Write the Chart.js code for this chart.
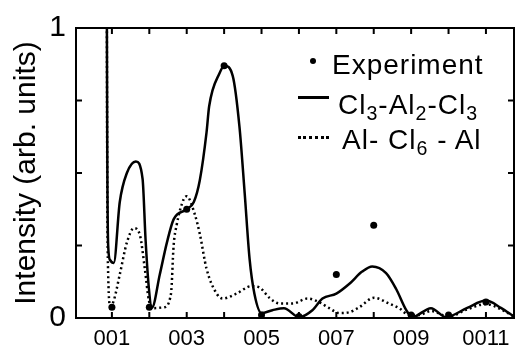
<!DOCTYPE html>
<html>
<head>
<meta charset="utf-8">
<script src="https://cdn.jsdelivr.net/npm/chart.js@4.4.0/dist/chart.umd.min.js"></script>
<style>
    body { margin: 0; background: #fff; }
    #wrap { position: relative; width: 518px; height: 353px; }
    .leg { position: absolute; font-family: "Liberation Sans", sans-serif; font-size: 28px; line-height: 1; color: #000; white-space: nowrap; letter-spacing: 1px; }
    .leg sub { font-size: 0.7em; vertical-align: baseline; position: relative; top: 0.3em; }
    .mark { position: absolute; }
</style>
</head>
<body>
<div id="wrap">
    <canvas id="grafico" width="518" height="353"></canvas>
    <div class="mark" style="left:310px; top:58px; width:6px; height:6px; border-radius:50%; background:#000;"></div>
    <div class="leg" style="left:332px; top:51px;">Experiment</div>
    <div class="mark" style="left:298px; top:96px; width:31px; border-top:3px solid #000;"></div>
    <div class="leg" style="left:338px; top:91px;">Cl<sub>3</sub>-Al<sub>2</sub>-Cl<sub>3</sub></div>
    <div class="mark" style="left:298px; top:136px; width:31px; border-top:3px dotted #000;"></div>
    <div class="leg" style="left:342px; top:126px;">Al- Cl<sub>6</sub> - Al</div>
</div>
<script>
// valores
const xTicks = [1, 2, 3, 4, 5, 6, 7, 8, 9, 10, 11];
const xTickLabels = ["001", "", "003", "", "005", "", "007", "", "009", "", "0011"];
const yTicks = [0, 0.25, 0.5, 0.75, 1];
const yTickLabels = ["0", "", "", "", "1"];

const xCl3Al2Cl3 = [0.86, 0.875, 0.9, 0.95, 1.05, 1.21, 1.4, 1.64, 1.82, 1.9, 1.99, 2.07, 2.28, 2.47, 2.65, 3.0, 3.19, 3.35, 3.53, 3.6, 3.88, 4.01, 4.23, 4.41, 4.55, 4.68, 4.81, 5.0, 5.29, 5.6, 6.0, 6.36, 6.63, 7.0, 7.35, 7.69, 7.96, 8.33, 8.6, 8.87, 9.03, 9.53, 9.93, 10.5, 11.0, 11.4, 11.75];
const yCl3Al2Cl3 = [1.3, 0.6, 0.25, 0.2, 0.19, 0.40, 0.50, 0.54, 0.48, 0.27, 0.10, 0.035, 0.15, 0.26, 0.34, 0.375, 0.40, 0.475, 0.64, 0.73, 0.845, 0.87, 0.835, 0.66, 0.43, 0.205, 0.084, 0.017, 0.027, 0.034, 0.003, 0.027, 0.067, 0.084, 0.118, 0.16, 0.178, 0.155, 0.10, 0.027, 0.003, 0.034, 0.003, 0.035, 0.06, 0.035, 0.005];

const xAlCl6Al = [0.86, 0.875, 0.9, 0.96, 1.05, 1.21, 1.4, 1.59, 1.75, 1.88, 1.99, 2.12, 2.39, 2.58, 2.65, 2.73, 2.92, 3.0, 3.21, 3.35, 3.53, 3.8, 3.96, 4.33, 4.73, 4.95, 5.21, 5.48, 5.83, 6.23, 6.55, 6.81, 7.08, 7.35, 7.61, 8.01, 8.41, 8.68, 8.95, 9.2, 9.53, 10.0, 10.5, 11.0, 11.4, 11.75];
const yAlCl6Al = [1.3, 0.5, 0.15, 0.04, 0.06, 0.15, 0.26, 0.31, 0.285, 0.17, 0.06, 0.034, 0.037, 0.084, 0.25, 0.32, 0.41, 0.42, 0.36, 0.29, 0.17, 0.084, 0.067, 0.084, 0.11, 0.105, 0.07, 0.05, 0.05, 0.067, 0.054, 0.034, 0.017, 0.02, 0.037, 0.07, 0.05, 0.034, 0.01, 0.01, 0.024, 0.005, 0.03, 0.048, 0.03, 0.005];

const xExperiment = [1, 2, 3, 4, 5, 6, 7, 8, 9, 10, 11];
const yExperiment = [0.037, 0.037, 0.375, 0.87, 0.01, 0.005, 0.15, 0.32, 0.01, 0.01, 0.055];

function pontos(xs, ys) {
    return xs.map((x, i) => ({ x: x, y: ys[i] }));
}

// moldura e marcas para dentro
const moldura = {
    id: "moldura",
    afterDatasetsDraw(chart) {
        const { ctx, chartArea: a, scales: { x, y } } = chart;
        ctx.save();
        ctx.strokeStyle = "#000";
        ctx.lineWidth = 2;
        ctx.strokeRect(a.left, a.top, a.right - a.left, a.bottom - a.top);
        ctx.beginPath();
        x.ticks.forEach(t => {
            const px = x.getPixelForValue(t.value);
            ctx.moveTo(px, a.bottom); ctx.lineTo(px, a.bottom - 6);
            ctx.moveTo(px, a.top); ctx.lineTo(px, a.top + 6);
        });
        y.ticks.forEach(t => {
            const py = y.getPixelForValue(t.value);
            ctx.moveTo(a.left, py); ctx.lineTo(a.left + 6, py);
            ctx.moveTo(a.right, py); ctx.lineTo(a.right - 6, py);
        });
        ctx.stroke();
        ctx.restore();
    }
};

const fonte = "'Liberation Sans', sans-serif";

new Chart(document.getElementById("grafico"), {
    type: "line",
    data: {
        datasets: [
            {
                label: "Experiment",
                data: pontos(xExperiment, yExperiment),
                showLine: false,
                pointRadius: 3.5,
                pointBackgroundColor: "#000",
                pointBorderWidth: 0
            },
            {
                label: "Cl3-Al2-Cl3",
                data: pontos(xCl3Al2Cl3, yCl3Al2Cl3),
                borderColor: "#000",
                borderWidth: 2.5,
                pointRadius: 0,
                cubicInterpolationMode: "monotone"
            },
            {
                label: "Al-Cl6-Al",
                data: pontos(xAlCl6Al, yAlCl6Al),
                borderColor: "#000",
                borderWidth: 2.5,
                borderDash: [2, 3],
                pointRadius: 0,
                cubicInterpolationMode: "monotone"
            }
        ]
    },
    options: {
        responsive: false,
        animation: false,
        devicePixelRatio: 1,
        layout: { padding: { top: 21, right: 2, left: 0, bottom: 0 } },
        plugins: {
            legend: { display: false },
            tooltip: { enabled: false }
        },
        scales: {
            x: {
                type: "linear",
                min: 0.04,
                max: 11.75,
                grid: { display: false, drawTicks: false },
                border: { display: false },
                afterBuildTicks: s => { s.ticks = xTicks.map(v => ({ value: v })); },
                afterFit: s => { s.height = 35; },
                ticks: {
                    autoSkip: false,
                    maxRotation: 0,
                    padding: 8,
                    color: "#000",
                    font: { family: fonte, size: 22 },
                    callback: (v, i) => xTickLabels[i]
                }
            },
            y: {
                min: 0,
                max: 1,
                grid: { display: false, drawTicks: false },
                border: { display: false },
                afterBuildTicks: s => { s.ticks = yTicks.map(v => ({ value: v })); },
                afterFit: s => { s.width = 76; },
                ticks: {
                    autoSkip: false,
                    padding: 10,
                    color: "#000",
                    font: { family: fonte, size: 30 },
                    callback: (v, i) => yTickLabels[i]
                },
                title: {
                    display: true,
                    text: "Intensity (arb. units)",
                    color: "#000",
                    font: { family: fonte, size: 30 },
                    padding: { top: 9, bottom: 0 }
                }
            }
        }
    },
    plugins: [moldura]
});
</script>
</body>
</html>
